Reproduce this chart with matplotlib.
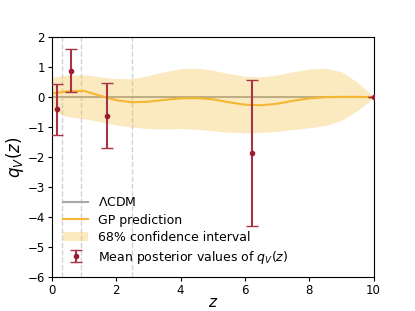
import matplotlib
matplotlib.use("Agg")
import matplotlib.pyplot as plt

# GP reconstruction
z_gp = [0.0, 0.5, 1.0, 1.5, 2.0, 2.5, 3.0, 3.5, 4.0, 4.5, 5.0,
        5.5, 6.0, 6.5, 7.0, 7.5, 8.0, 8.5, 9.0, 9.5, 10.0]
q_mean = [0.12, 0.20, 0.21, 0.05, -0.10, -0.17, -0.15, -0.09, -0.04, -0.03, -0.07,
          -0.17, -0.25, -0.27, -0.22, -0.12, -0.04, 0.00, 0.01, 0.01, 0.00]
q_upper = [0.66, 0.74, 0.75, 0.68, 0.62, 0.62, 0.72, 0.85, 0.95, 0.97, 0.90,
           0.79, 0.70, 0.68, 0.74, 0.85, 0.94, 0.97, 0.85, 0.50, 0.02]
q_lower = [-0.45, -0.65, -0.72, -0.82, -0.93, -1.00, -1.05, -1.06, -1.05, -1.07, -1.12,
           -1.17, -1.19, -1.18, -1.14, -1.08, -1.02, -0.95, -0.78, -0.45, -0.02]

# mean posterior points with asymmetric errors
z_pts = [0.15, 0.59, 1.70, 6.23, 10.0]
q_pts = [-0.41, 0.88, -0.62, -1.86, 0.0]
err_lo = [0.85, 0.72, 1.09, 2.44, 0.0]
err_hi = [0.84, 0.73, 1.11, 2.45, 0.0]

z_bins = [0.3, 0.9, 2.5]  # dashed vertical markers

fig, ax = plt.subplots(figsize=(4.15, 3.11), dpi=100)

for zb in z_bins:
    ax.axvline(zb, color="lightgray", ls="--", lw=1, zorder=0)

ax.axhline(0, color="darkgray", lw=1.5, label=r"$\Lambda$CDM", zorder=1)
ax.plot(z_gp, q_mean, color="#f5b731", lw=1.5, label="GP prediction", zorder=2)
ax.fill_between(z_gp, q_lower, q_upper, color="#f5b731", alpha=0.3, lw=0,
                label="68% confidence interval", zorder=1)
ax.errorbar(z_pts, q_pts, yerr=[err_lo, err_hi], fmt="o", ms=3, color="#9b1b30",
            ecolor="#a83246", elinewidth=1.5, capsize=4,
            label=r"Mean posterior values of $q_V(z)$", zorder=3)

ax.set_xlim(0, 10)
ax.set_ylim(-6, 2)
ax.tick_params(labelsize=8.5, length=3, pad=2)
ax.set_xlabel(r"$z$", fontsize=11, labelpad=-1)
ax.set_ylabel(r"$q_V(z)$", fontsize=12, labelpad=1)
ax.legend(loc="lower left", frameon=False, fontsize=9, labelspacing=0.35)

fig.savefig("out.png", dpi=100)
